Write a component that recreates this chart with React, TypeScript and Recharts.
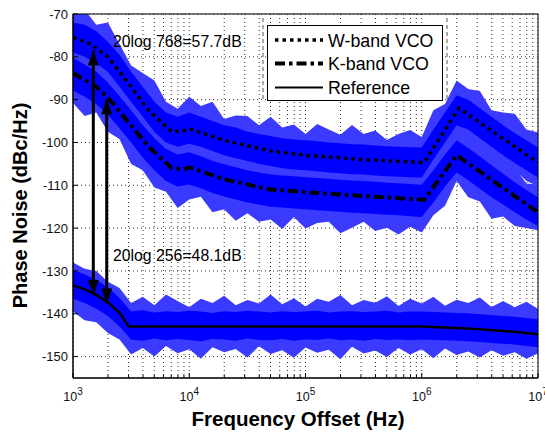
import React from 'react';
import { ComposedChart, Area, Line, XAxis, YAxis, CartesianGrid, ReferenceArea } from 'recharts';

// Frequency grid (Hz) used for the noise envelopes
const FREQS = [1000, 1259, 1585, 1995, 2512, 3162, 3981, 5012, 6310, 7943, 10000, 12589, 15849, 19953, 25119, 31623, 39811, 50119, 63096, 79433, 100000, 125893, 158489, 199526, 251189, 316228, 398107, 501187, 630957, 794328, 1000000, 1258925, 1584893, 1995262, 2511886, 3162278, 3981072, 5011872, 6309573, 7943282, 10000000];

// W-band measured noise envelope
const W_OUT_HI = [-69.5, -69, -72.5, -72, -77, -82, -83.8, -85.5, -90.5, -92.1, -89.3, -91.5, -90.5, -94.5, -93.7, -93.8, -96, -94, -96.5, -95.8, -98, -95.7, -97, -98.2, -95.9, -98, -97.2, -99.4, -98, -97.1, -98.7, -92.5, -91, -85.5, -87.5, -88, -92.5, -93, -93.3, -97, -97.7];
const W_OUT_LO = [-80.5, -83, -82.5, -87, -89, -93, -95.3, -101.5, -101.5, -103.6, -102.3, -104.5, -103, -106, -105.2, -108.3, -107, -108, -107, -109.8, -109, -108.2, -110, -109.2, -110.9, -108.5, -110.2, -109.9, -112, -109.6, -111.2, -105, -102.5, -99.5, -98.5, -102, -103, -106.5, -106.3, -109, -110.2];
const W_CORE_HI = [-72, -72.5, -74, -76.5, -79.5, -83.5, -87, -90.5, -93, -94, -93, -94, -95, -96, -96.5, -97.5, -98, -98.5, -99, -99.3, -99.5, -99.7, -100, -100.2, -100.4, -100.5, -100.7, -100.9, -101, -101.1, -101.2, -97, -93, -89, -90, -92, -94, -96, -97.8, -99.5, -101.2];
const W_CORE_LO = [-79, -80, -81.5, -83.5, -87, -90.5, -94, -97.5, -100, -101, -100.3, -101, -102, -103, -103.7, -104.3, -105, -105.5, -106, -106.3, -106.5, -106.7, -107, -107.2, -107.4, -107.5, -107.7, -107.9, -108, -108.1, -108.2, -104, -100, -96, -97, -99, -101, -103, -104.8, -106.5, -108.2];

// K-band measured noise envelope
const K_OUT_HI = [-77.3, -80.3, -79.5, -83.5, -84.7, -90.5, -92.5, -96.5, -97, -101.3, -99.3, -99.2, -102.3, -101.6, -103.3, -102, -105.5, -104.5, -103.7, -105.9, -104.6, -105.8, -104, -107.2, -105.9, -105, -107.2, -105.9, -107, -105.2, -108.4, -103.5, -98.8, -97, -97.8, -101.3, -100.8, -104.8, -105.8, -109.6, -109.8];
const K_OUT_LO = [-90.8, -93.8, -93, -97.5, -99.2, -105, -106.5, -110.5, -111.5, -115.3, -113.3, -112.7, -116.3, -115.6, -118.3, -116.5, -118.5, -118, -120.2, -117.4, -120.1, -118.8, -118.5, -121.2, -119.9, -118.5, -120.7, -119.9, -121.5, -119.7, -121, -117, -114.8, -109, -112.8, -113.8, -117.8, -117.3, -119.5, -120, -120.5];
const K_CORE_HI = [-80.3, -81.8, -83.5, -86, -89.2, -92.5, -96, -99, -101.5, -102.8, -102.3, -103.2, -104.3, -105.1, -105.8, -106.5, -107, -107.5, -107.7, -107.9, -108.1, -108.3, -108.5, -108.7, -108.9, -109, -109.2, -109.4, -109.5, -109.7, -109.9, -106.5, -102.8, -99.5, -101.3, -103.3, -105.3, -107.3, -109.3, -111.1, -112.8];
const K_CORE_LO = [-87.8, -89.3, -91, -93.5, -96.7, -100, -103.5, -106.5, -109, -110.3, -109.8, -110.7, -111.8, -112.6, -113.3, -114, -114.5, -115, -115.2, -115.4, -115.6, -115.8, -116, -116.2, -116.4, -116.5, -116.7, -116.9, -117, -117.2, -117.4, -114, -110.3, -107, -108.8, -110.8, -112.8, -114.5, -116.3, -118, -119.5];

// Reference measured noise envelope
const R_OUT_HI = [-128, -129.5, -130, -132.5, -134, -137.5, -136, -138, -135.5, -137, -138.5, -136.5, -137.5, -135.8, -138, -136.8, -137.6, -135.5, -137.8, -136.4, -138.3, -136.5, -137.2, -135.6, -138, -136.8, -137.4, -135.9, -138.2, -136.5, -137.6, -136, -138.1, -136.7, -137.5, -136.2, -138.4, -137, -138.5, -137.2, -138.8];
const R_OUT_LO = [-139.5, -141.5, -142, -144.5, -146, -149.5, -148, -150, -147.5, -149.2, -148.3, -150.5, -147.8, -149, -148.2, -150.2, -147.6, -149.4, -148.5, -150.3, -147.9, -149.1, -148.4, -150.6, -147.7, -149.3, -148.6, -150.1, -148, -149.5, -148.3, -150.4, -148.1, -149.6, -148.8, -150.2, -148.5, -149.8, -149, -150.5, -149.3];
const R_CORE_HI = [-129.8, -130.8, -132.1, -133.8, -136.3, -139.5, -139.2, -139.7, -139.4, -139.6, -139.3, -139.5, -139.8, -139.4, -139.6, -139.3, -139.5, -139.7, -139.4, -139.6, -139.5, -139.3, -139.7, -139.5, -139.4, -139.6, -139.5, -139.3, -139.7, -139.5, -139.5, -139.6, -139.7, -139.8, -139.9, -140.1, -140.3, -140.5, -140.7, -141, -141.3];
const R_CORE_LO = [-136.5, -137.5, -138.8, -140.5, -143, -146, -146.3, -145.8, -146.2, -145.9, -146.1, -146.4, -145.9, -146, -146.3, -145.8, -146.1, -146.2, -145.9, -146.3, -146, -146.1, -145.8, -146.2, -146, -146.3, -145.9, -146.1, -146, -146.2, -146, -146.1, -146.2, -146.3, -146.4, -146.6, -146.8, -147, -147.2, -147.5, -147.8];

// Fitted curves
const W_LINE_F = [1000, 1413, 1995, 3162, 4467, 7079, 8913, 10000, 19953, 50119, 100000, 316228, 1047129, 2089296, 10000000];
const W_LINE_DB = [-75.5, -77, -80, -87, -92.5, -97.5, -97.3, -96.8, -99.5, -102, -103, -104, -104.7, -92, -104.7];
const K_LINE_F = [1000, 1585, 1995, 3162, 4467, 7079, 8913, 10000, 19953, 50119, 100000, 316228, 1047129, 1995262, 10000000];
const K_LINE_DB = [-83.8, -87, -89.5, -96, -101, -106, -106.3, -105.8, -108.6, -111, -111.6, -112.5, -113.4, -103, -116.3];
const R_LINE_F = [1000, 1259, 1585, 1995, 2512, 3020, 1000000, 1995262, 3162278, 5011872, 7943282, 10000000];
const R_LINE_DB = [-133.3, -134.3, -135.6, -137.3, -139.8, -143, -143, -143.3, -143.6, -144, -144.5, -144.8];

// Annotation arrows (frequency, top dB, bottom dB)
const ARROW1 = { f: 1495, top: -78.5, bottom: -135.6 };
const ARROW2 = { f: 1950, top: -89.9, bottom: -137.6 };

const X_TICKS = [1e3, 2e3, 3e3, 4e3, 5e3, 6e3, 7e3, 8e3, 9e3, 1e4, 2e4, 3e4, 4e4, 5e4, 6e4, 7e4, 8e4, 9e4, 1e5, 2e5, 3e5, 4e5, 5e5, 6e5, 7e5, 8e5, 9e5, 1e6, 2e6, 3e6, 4e6, 5e6, 6e6, 7e6, 8e6, 9e6, 1e7];
const X_MAJOR = [1e3, 1e4, 1e5, 1e6, 1e7];
const X_EXP = ['3', '4', '5', '6', '7'];
const Y_TICKS = [-150, -140, -130, -120, -110, -100, -90, -80, -70];

const FONT = '"Liberation Sans", Arial, Helvetica, sans-serif';

const bandData = FREQS.map((f, i) => ({
  f,
  wOut: [W_OUT_LO[i], W_OUT_HI[i]],
  wCore: [W_CORE_LO[i], W_CORE_HI[i]],
  kOut: [K_OUT_LO[i], K_OUT_HI[i]],
  kCore: [K_CORE_LO[i], K_CORE_HI[i]],
  rOut: [R_OUT_LO[i], R_OUT_HI[i]],
  rCore: [R_CORE_LO[i], R_CORE_HI[i]],
}));
const wLine = W_LINE_F.map((f, i) => ({ f, v: W_LINE_DB[i] }));
const kLine = K_LINE_F.map((f, i) => ({ f, v: K_LINE_DB[i] }));
const rLine = R_LINE_F.map((f, i) => ({ f, v: R_LINE_DB[i] }));
const arrow1 = [{ f: ARROW1.f, v: ARROW1.top }, { f: ARROW1.f, v: ARROW1.bottom }];
const arrow2 = [{ f: ARROW2.f, v: ARROW2.top }, { f: ARROW2.f, v: ARROW2.bottom }];

const XTick = (props: any) => {
  const { x, y, payload } = props;
  const idx = X_MAJOR.indexOf(payload.value);
  const major = idx >= 0;
  return (
    <g>
      <line x1={x} x2={x} y1={y} y2={y - (major ? 5 : 3)} stroke="#000" strokeWidth={1} />
      {major && (
        <text x={x} y={y + 23} textAnchor="middle" fontFamily={FONT} fontSize={12.5} fill="#111">
          <tspan>10</tspan>
          <tspan dy={-6} fontSize={10}>{X_EXP[idx]}</tspan>
        </text>
      )}
    </g>
  );
};

const YTick = (props: any) => {
  const { x, y, payload } = props;
  return (
    <g>
      <line x1={x} x2={x + 5} y1={y} y2={y} stroke="#000" strokeWidth={1} />
      <text x={x - 5} y={y + 4.6} textAnchor="end" fontFamily={FONT} fontSize={13} fill="#111">
        {payload.value}
      </text>
    </g>
  );
};

const arrowDot = (props: any) => {
  const { cx, cy, index } = props;
  if (cx == null || cy == null) return <g key={`a-${index}`} />;
  const pts = index === 0
    ? `${cx},${cy} ${cx - 5.5},${cy + 15} ${cx + 5.5},${cy + 15}`
    : `${cx},${cy} ${cx - 5.5},${cy - 15} ${cx + 5.5},${cy - 15}`;
  return <polygon key={`a-${index}`} points={pts} fill="#000" stroke="none" />;
};

const OUT_BLUE = '#3b3bff';
const CORE_BLUE = '#0000ff';

export default function App() {
  return (
    <div style={{ position: 'absolute', left: 0, top: 0, width: 545, height: 432, background: '#fff' }}>
      <ComposedChart width={545} height={432} margin={{ top: 14, right: 7, bottom: 0, left: 0 }}>
        <CartesianGrid stroke="#333" strokeDasharray="1 3" strokeWidth={1} />
        <XAxis
          dataKey="f"
          type="number"
          scale="log"
          domain={[1000, 10000000]}
          allowDataOverflow
          ticks={X_TICKS}
          interval={0}
          height={54}
          tickSize={0}
          tickMargin={0}
          axisLine={{ stroke: '#000' }}
          tick={<XTick />}
        />
        <YAxis
          type="number"
          domain={[-155, -70]}
          allowDataOverflow
          ticks={Y_TICKS}
          interval={0}
          width={73}
          tickSize={0}
          tickMargin={0}
          axisLine={{ stroke: '#000' }}
          tick={<YTick />}
        />
        <Area data={bandData} dataKey="wOut" type="linear" stroke="none" fill={OUT_BLUE} fillOpacity={1} isAnimationActive={false} dot={false} activeDot={false} />
        <Area data={bandData} dataKey="kOut" type="linear" stroke="none" fill={OUT_BLUE} fillOpacity={1} isAnimationActive={false} dot={false} activeDot={false} />
        <Area data={bandData} dataKey="rOut" type="linear" stroke="none" fill={OUT_BLUE} fillOpacity={1} isAnimationActive={false} dot={false} activeDot={false} />
        <Area data={bandData} dataKey="wCore" type="linear" stroke="none" fill={CORE_BLUE} fillOpacity={1} isAnimationActive={false} dot={false} activeDot={false} />
        <Area data={bandData} dataKey="kCore" type="linear" stroke="none" fill={CORE_BLUE} fillOpacity={1} isAnimationActive={false} dot={false} activeDot={false} />
        <Area data={bandData} dataKey="rCore" type="linear" stroke="none" fill={CORE_BLUE} fillOpacity={1} isAnimationActive={false} dot={false} activeDot={false} />
        <Line data={wLine} dataKey="v" type="linear" stroke="#000" strokeWidth={3.5} strokeDasharray="3.5 4" dot={false} activeDot={false} isAnimationActive={false} />
        <Line data={kLine} dataKey="v" type="linear" stroke="#000" strokeWidth={4} strokeDasharray="10 4 3.5 4" dot={false} activeDot={false} isAnimationActive={false} />
        <Line data={rLine} dataKey="v" type="linear" stroke="#000" strokeWidth={2.5} dot={false} activeDot={false} isAnimationActive={false} />
        <Line data={arrow1} dataKey="v" type="linear" stroke="#000" strokeWidth={3} dot={arrowDot} activeDot={false} isAnimationActive={false} />
        <Line data={arrow2} dataKey="v" type="linear" stroke="#000" strokeWidth={3} dot={arrowDot} activeDot={false} isAnimationActive={false} />
        <ReferenceArea x1={1000} x2={10000000} y1={-155} y2={-70} stroke="#000" strokeWidth={1} fill="none" fillOpacity={0} ifOverflow="visible" />
      </ComposedChart>
      <svg width={545} height={432} style={{ position: 'absolute', left: 0, top: 0, pointerEvents: 'none' }}>
        <text x={113} y={46.5} fontFamily={FONT} fontSize={15.8} fill="#000">20log 768=57.7dB</text>
        <text x={113} y={260.5} fontFamily={FONT} fontSize={15.8} fill="#000">20log 256=48.1dB</text>
        <line x1={263} y1={18} x2={263} y2={101} stroke="#555" strokeDasharray="4 3" />
        <line x1={447} y1={18} x2={447} y2={101} stroke="#555" strokeDasharray="4 3" />
        <rect x={267.5} y={25.5} width={175} height={75} fill="#fff" stroke="#000" strokeWidth={1} />
        <line x1={275} y1={40} x2={323} y2={40} stroke="#000" strokeWidth={3.5} strokeDasharray="3.5 4" />
        <text x={328} y={46.5} fontFamily={FONT} fontSize={17.8} fill="#000">W-band VCO</text>
        <line x1={275} y1={63.5} x2={323} y2={63.5} stroke="#000" strokeWidth={4} strokeDasharray="10 4 3.5 4" />
        <text x={328} y={70} fontFamily={FONT} fontSize={17.8} fill="#000">K-band VCO</text>
        <line x1={275} y1={87.5} x2={323} y2={87.5} stroke="#000" strokeWidth={2} />
        <text x={328} y={94} fontFamily={FONT} fontSize={17.8} fill="#000">Reference</text>
        <text x={298} y={426} textAnchor="middle" fontFamily={FONT} fontSize={20.5} fontWeight="bold" fill="#000">Frequency Offset (Hz)</text>
        <text transform="translate(26.5,205.5) rotate(-90)" textAnchor="middle" fontFamily={FONT} fontSize={20} fontWeight="bold" fill="#000">Phase Noise (dBc/Hz)</text>
      </svg>
    </div>
  );
}
